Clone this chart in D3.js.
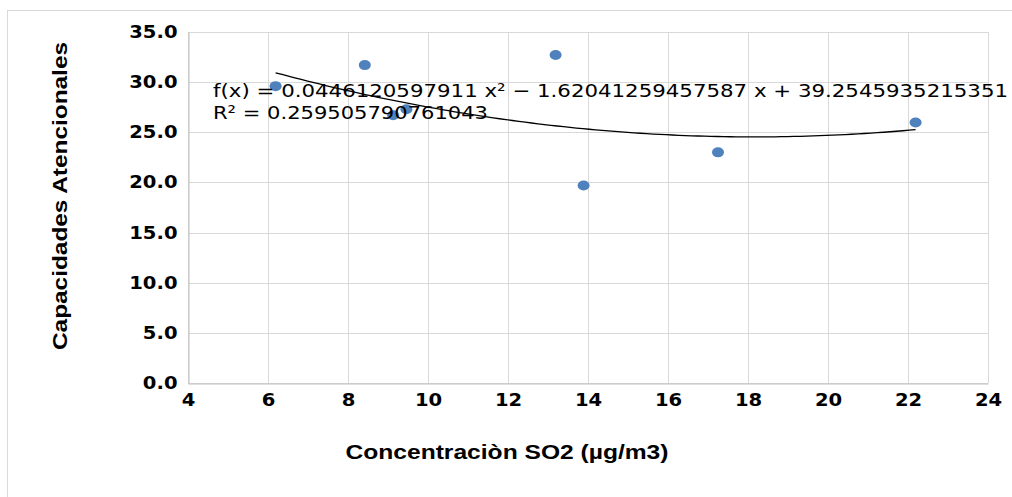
<!DOCTYPE html>
<html>
<head>
<meta charset="utf-8">
<style>
  body { margin: 0; background: #fff; }
  svg { display: block; }
</style>
</head>
<body>
<svg width="1012" height="497"></svg>
<script src="https://cdn.jsdelivr.net/npm/d3@7"></script>
<script>
// scatter data
const so2 = [6.19, 8.42, 9.13, 9.46, 13.19, 13.89, 17.25, 22.19];
const atencion = [29.6, 31.7, 26.7, 27.3, 32.7, 19.7, 23.0, 25.97];
const xTicks = [4, 6, 8, 10, 12, 14, 16, 18, 20, 22, 24];
const yTicks = [0, 5, 10, 15, 20, 25, 30, 35];
// polynomial trend printed on the chart
const coef = [39.2545935215351, -1.62041259457587, 0.0446120597911];
const eqText = 'f(x) = 0.0446120597911 x² − 1.62041259457587 x + 39.2545935215351';
const r2Text = 'R² = 0.259505790761043';

const margin = {top: 32, right: 24, bottom: 114, left: 188};
const width = 1012 - margin.left - margin.right;   // 800
const height = 497 - margin.top - margin.bottom;   // 351

const svg = d3.select('svg');

// the original render is a bit wider than the fonts, stretch text to fit
function stretch(sel, k) {
  sel.each(function() {
    const w = this.getComputedTextLength();
    d3.select(this).attr('textLength', w * k).attr('lengthAdjust', 'spacingAndGlyphs');
  });
}

// outer chart border
svg.append('rect')
  .attr('x', 7.5).attr('y', 10.5)
  .attr('width', 1020).attr('height', 500)
  .attr('fill', 'none').attr('stroke', '#d9d9d9');

const x = d3.scaleLinear().domain([4, 24]).range([0, width]);
const y = d3.scaleLinear().domain([0, 35]).range([height, 0]);

const chart = svg.append('g')
  .attr('transform', 'translate(' + margin.left + ',' + margin.top + ')');

// grid
chart.append('g').selectAll('line')
  .data(xTicks).enter().append('line')
  .attr('x1', d => Math.round(x(d)) + 0.5).attr('x2', d => Math.round(x(d)) + 0.5)
  .attr('y1', 0).attr('y2', height)
  .attr('stroke', '#d9d9d9');
chart.append('g').selectAll('line')
  .data(yTicks).enter().append('line')
  .attr('x1', 0).attr('x2', width)
  .attr('y1', d => Math.round(y(d)) + 0.5).attr('y2', d => Math.round(y(d)) + 0.5)
  .attr('stroke', '#d9d9d9');

// axes
const xAxis = d3.axisBottom(x).tickValues(xTicks).tickSize(0).tickPadding(8).tickFormat(d3.format('d'));
const yAxis = d3.axisLeft(y).tickValues(yTicks).tickSize(0).tickPadding(11).tickFormat(d3.format('.1f'));

const gx = chart.append('g').attr('transform', 'translate(0,' + (height + 0.5) + ')').call(xAxis);
const gy = chart.append('g').attr('transform', 'translate(0.5,0)').call(yAxis);
[gx, gy].forEach(g => {
  g.select('.domain').attr('stroke', '#bfbfbf');
  g.selectAll('text')
    .attr('fill', '#000')
    .style('font-family', 'DejaVu Sans')
    .style('font-weight', 'bold')
    .style('font-size', '17px');
  stretch(g.selectAll('text'), 1.15);
});
gy.selectAll('text').attr('dy', '0.32em');
gx.selectAll('text').attr('dy', '0.85em');

// trend line
const poly = v => coef[0] + coef[1] * v + coef[2] * v * v;
const xs = d3.range(0, 101).map(i => d3.min(so2) + (d3.max(so2) - d3.min(so2)) * i / 100);
chart.append('path')
  .datum(xs)
  .attr('fill', 'none')
  .attr('stroke', '#000')
  .attr('stroke-width', 1.3)
  .attr('d', d3.line().x(d => x(d)).y(d => y(poly(d))));

// points
chart.append('g').selectAll('ellipse')
  .data(so2).enter().append('ellipse')
  .attr('cx', d => x(d))
  .attr('cy', (d, i) => y(atencion[i]))
  .attr('rx', 6).attr('ry', 5)
  .attr('fill', '#4f81bd');

// equation text
chart.append('text')
  .attr('x', 25).attr('y', 65)
  .style('font-family', 'DejaVu Sans')
  .style('font-size', '18px')
  .attr('fill', '#000')
  .attr('textLength', 795).attr('lengthAdjust', 'spacingAndGlyphs')
  .text(eqText);
chart.append('text')
  .attr('x', 25).attr('y', 87)
  .style('font-family', 'DejaVu Sans')
  .style('font-size', '18px')
  .attr('fill', '#000')
  .attr('textLength', 275).attr('lengthAdjust', 'spacingAndGlyphs')
  .text(r2Text);

// axis titles
svg.append('text')
  .attr('x', 507).attr('y', 459)
  .attr('text-anchor', 'middle')
  .style('font-family', 'Liberation Sans')
  .style('font-weight', 'bold')
  .style('font-size', '20px')
  .attr('textLength', 323).attr('lengthAdjust', 'spacingAndGlyphs')
  .text('Concentraciòn SO2 (µg/m3)');

svg.append('text')
  .attr('transform', 'translate(67,196) rotate(-90)')
  .attr('text-anchor', 'middle')
  .style('font-family', 'Liberation Sans')
  .style('font-weight', 'bold')
  .style('font-size', '21px')
  .attr('textLength', 308).attr('lengthAdjust', 'spacingAndGlyphs')
  .text('Capacidades Atencionales');
</script>
</body>
</html>
